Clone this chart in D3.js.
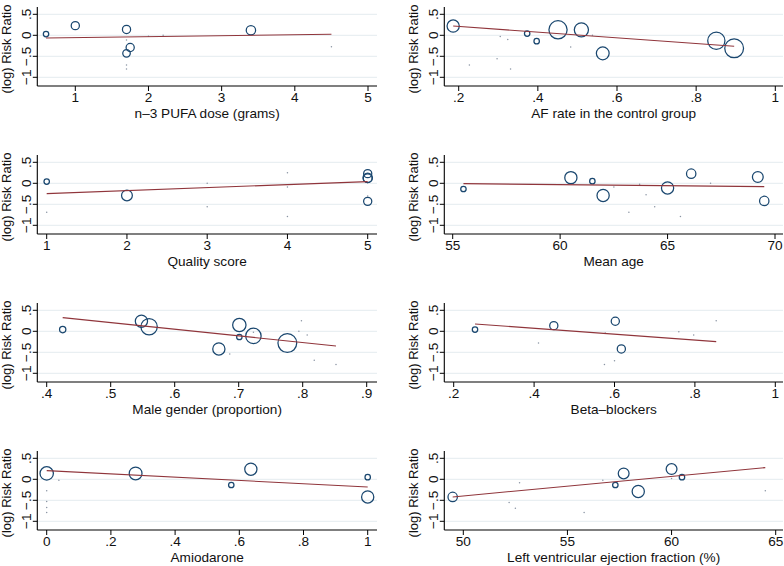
<!DOCTYPE html>
<html><head><meta charset="utf-8">
<script src="https://cdn.jsdelivr.net/npm/d3@7"></script>
<style>
body{margin:0;background:#fff}
svg{display:block}
text{font-family:"Liberation Sans",Arial,Helvetica,sans-serif;fill:#111}
</style>
</head><body>
<svg id="c" width="784" height="566"></svg>
<script>
// ---------- shared axis text ----------
const yTickValues = [-1, -0.5, 0, 0.5];
const yTickLabels = ["−1", "−.5", "0", ".5"];
const yTitle = "(log) Risk Ratio";

const xTitles = [
  "n–3 PUFA dose (grams)",
  "AF rate in the control group",
  "Quality score",
  "Mean age",
  "Male gender (proportion)",
  "Beta–blockers",
  "Amiodarone",
  "Left ventricular ejection fraction (%)"
];

const xTickValues = [
  [1, 2, 3, 4, 5],
  [0.2, 0.4, 0.6, 0.8, 1],
  [1, 2, 3, 4, 5],
  [55, 60, 65, 70],
  [0.4, 0.5, 0.6, 0.7, 0.8, 0.9],
  [0.2, 0.4, 0.6, 0.8, 1],
  [0, 0.2, 0.4, 0.6, 0.8, 1],
  [50, 55, 60, 65]
];
const xTickLabels = [
  ["1", "2", "3", "4", "5"],
  [".2", ".4", ".6", ".8", "1"],
  ["1", "2", "3", "4", "5"],
  ["55", "60", "65", "70"],
  [".4", ".5", ".6", ".7", ".8", ".9"],
  [".2", ".4", ".6", ".8", "1"],
  ["0", ".2", ".4", ".6", ".8", "1"],
  ["50", "55", "60", "65"]
];

// ---------- data: x, (log) risk ratio, study weight ----------
const doseX = [0.6, 1.0, 1.7, 1.75, 1.7, 3.4, 1.7, 1.7, 1.7, 2.0, 2.2, 4.5];
const doseY = [0.03, 0.23, 0.14, -0.29, -0.43, 0.12, -0.11, -0.71, -0.8, -0.02, 0.0, -0.27];
const doseW = [11, 22, 22, 22, 19, 28, 0.3, 0.3, 0.3, 0.3, 0.3, 0.3];

const afX = [0.186, 0.373, 0.397, 0.451, 0.51, 0.564, 0.851, 0.896, 0.227, 0.297, 0.305, 0.324, 0.331, 0.483, 0.538];
const afY = [0.22, 0.04, -0.14, 0.13, 0.13, -0.43, -0.13, -0.31, -0.71, -0.56, -0.03, -0.1, -0.8, -0.28, 0.0];
const afW = [45, 11, 11, 94, 59, 49, 85, 100, 0.3, 0.3, 0.3, 0.3, 0.3, 0.3, 0.3];

const qualX = [1, 2, 5, 5, 5, 5, 1, 3, 3, 4, 4, 4, 5];
const qualY = [0.04, -0.29, 0.23, 0.13, 0.12, -0.43, -0.69, 0.0, -0.56, 0.25, -0.09, -0.79, -0.3];
const qualW = [11, 36, 22, 28, 25, 22, 0.3, 0.3, 0.3, 0.3, 0.3, 0.3, 0.3];

const ageX = [55.5, 60.5, 61.5, 62, 65, 66.1, 69.2, 69.5, 62.5, 63.2, 63.7, 64.0, 64.4, 65.6, 67.0];
const ageY = [-0.135, 0.135, 0.05, -0.29, -0.11, 0.23, 0.15, -0.42, -0.09, -0.69, -0.02, -0.27, -0.56, -0.79, 0.0];
const ageW = [11, 45, 11, 45, 45, 28, 36, 28, 0.3, 0.3, 0.3, 0.3, 0.3, 0.3, 0.3];

const maleX = [0.425, 0.548, 0.56, 0.669, 0.701, 0.701, 0.723, 0.776, 0.686, 0.723, 0.798, 0.794, 0.807, 0.818, 0.852];
const maleY = [0.04, 0.24, 0.11, -0.42, 0.15, -0.135, -0.11, -0.28, -0.54, -0.02, 0.25, 0.0, -0.09, -0.69, -0.79];
const maleW = [14, 45, 77, 45, 53, 11, 69, 100, 0.3, 0.3, 0.3, 0.3, 0.3, 0.3, 0.3];

const betaX = [0.253, 0.449, 0.602, 0.617, 0.411, 0.575, 0.6, 0.577, 0.76, 0.797, 0.853];
const betaY = [0.04, 0.135, 0.24, -0.42, -0.28, -0.79, -0.7, -0.04, -0.01, -0.09, 0.25];
const betaW = [11, 22, 22, 22, 0.3, 0.3, 0.3, 0.3, 0.3, 0.3, 0.3];

const amioX = [0, 0.277, 0.575, 0.636, 1, 1, 0, 0, 0, 0, 0.038];
const amioY = [0.14, 0.14, -0.135, 0.24, 0.05, -0.42, -0.27, -0.53, -0.67, -0.79, -0.02];
const amioW = [53, 49, 11, 45, 11, 45, 0.3, 0.3, 0.3, 0.3, 0.3];

const lvefX = [49.49, 57.3, 57.7, 58.4, 60.0, 60.5, 52.7, 52.2, 52.5, 55.8, 56.7, 60.0, 64.5];
const lvefY = [-0.42, -0.135, 0.14, -0.29, 0.245, 0.05, -0.08, -0.55, -0.69, -0.79, -0.02, 0.02, -0.27];
const lvefW = [28, 11, 36, 45, 36, 11, 0.3, 0.3, 0.3, 0.3, 0.3, 0.3, 0.3];

// meta-regression fitted line: intercept + slope * x
const fitIntercept = [-0.0764, 0.349, -0.3175, 0.273, 0.995, 0.3525, 0.206, -2.721];
const fitSlope = [0.0223, -0.682, 0.0715, -0.00507, -1.577, -0.7017, -0.389, 0.0465];

// ---------- assemble ----------
const seriesX = [doseX, afX, qualX, ageX, maleX, betaX, amioX, lvefX];
const seriesY = [doseY, afY, qualY, ageY, maleY, betaY, amioY, lvefY];
const seriesW = [doseW, afW, qualW, ageW, maleW, betaW, amioW, lvefW];

// ---------- layout (pixels) ----------
const colAxisX = [37.3, 444.3];
const colRight = [377, 783];
const rowStep = 148;
const plotTop = 7, plotBottom = 86;
const yPixTop = 14.3, yPixBottom = 77.3;
const xTickPix = [
  [75.3, 368], [458.7, 775.3],
  [46.7, 367.7], [452.7, 775],
  [46.7, 366.7], [453.7, 775.3],
  [46.7, 367.7], [463.3, 775.7]
];
const fontSize = 13.6;

const navy = "#1a476f", maroon = "#90353b", grid = "#e4ecef";
const rScale = d3.scaleSqrt().domain([0, 100]).range([0, 10]);

const svg = d3.select("#c");

xTitles.forEach((title, i) => {
  const col = i % 2, row = Math.floor(i / 2);
  const off = row * rowStep;
  const ax = colAxisX[col], rx = colRight[col];
  const top = plotTop + off, bottom = plotBottom + off;
  const ticks = xTickValues[i];
  const x = d3.scaleLinear()
    .domain([ticks[0], ticks[ticks.length - 1]])
    .range(xTickPix[i]);
  const y = d3.scaleLinear().domain([-1, 0.5]).range([yPixBottom + off, yPixTop + off]);

  const g = svg.append("g");

  g.selectAll("line.grid").data(yTickValues).enter().append("line")
    .attr("x1", ax).attr("x2", rx)
    .attr("y1", d => y(d)).attr("y2", d => y(d))
    .attr("stroke", grid).attr("stroke-width", 1);

  const pts = seriesX[i].map((v, k) => ({ x: v, y: seriesY[i][k], w: seriesW[i][k] }));
  const big = pts.filter(p => rScale(p.w) >= 1.5);
  const tiny = pts.filter(p => rScale(p.w) < 1.5);
  g.selectAll("circle.tiny").data(tiny).enter().append("circle")
    .attr("cx", d => x(d.x)).attr("cy", d => y(d.y))
    .attr("r", 0.75).attr("fill", "#8a94a3");
  g.selectAll("circle.big").data(big).enter().append("circle")
    .attr("cx", d => x(d.x)).attr("cy", d => y(d.y))
    .attr("r", d => rScale(d.w) - 0.6)
    .attr("fill", "none").attr("stroke", navy).attr("stroke-width", 1.25);

  const [xmin, xmax] = d3.extent(seriesX[i]);
  const f = v => fitIntercept[i] + fitSlope[i] * v;
  g.append("line")
    .attr("x1", x(xmin)).attr("y1", y(f(xmin)))
    .attr("x2", x(xmax)).attr("y2", y(f(xmax)))
    .attr("stroke", maroon).attr("stroke-width", 1.1);

  g.append("line").attr("x1", ax).attr("x2", ax).attr("y1", top).attr("y2", bottom)
    .attr("stroke", "#000").attr("stroke-width", 1.1);
  g.append("line").attr("x1", ax).attr("x2", rx).attr("y1", bottom).attr("y2", bottom)
    .attr("stroke", "#000").attr("stroke-width", 1.1);

  yTickValues.forEach((v, k) => {
    g.append("line").attr("x1", ax - 4.5).attr("x2", ax).attr("y1", y(v)).attr("y2", y(v))
      .attr("stroke", "#000").attr("stroke-width", 1);
    g.append("text")
      .attr("transform", `translate(${ax - 6.4},${y(v)}) rotate(-90)`)
      .attr("text-anchor", "middle").attr("font-size", fontSize)
      .text(yTickLabels[k]);
  });

  ticks.forEach((v, k) => {
    g.append("line").attr("x1", x(v)).attr("x2", x(v)).attr("y1", bottom).attr("y2", bottom + 5)
      .attr("stroke", "#000").attr("stroke-width", 1);
    g.append("text")
      .attr("x", x(v)).attr("y", bottom + 16.3)
      .attr("text-anchor", "middle").attr("font-size", fontSize)
      .text(xTickLabels[i][k]);
  });

  g.append("text")
    .attr("x", (ax + rx) / 2).attr("y", bottom + 32)
    .attr("text-anchor", "middle").attr("font-size", fontSize)
    .text(title);
  g.append("text")
    .attr("transform", `translate(${ax - 26},${(top + bottom) / 2 + 2.5}) rotate(-90)`)
    .attr("text-anchor", "middle").attr("font-size", 13)
    .text(yTitle);
});
</script>
</body></html>
